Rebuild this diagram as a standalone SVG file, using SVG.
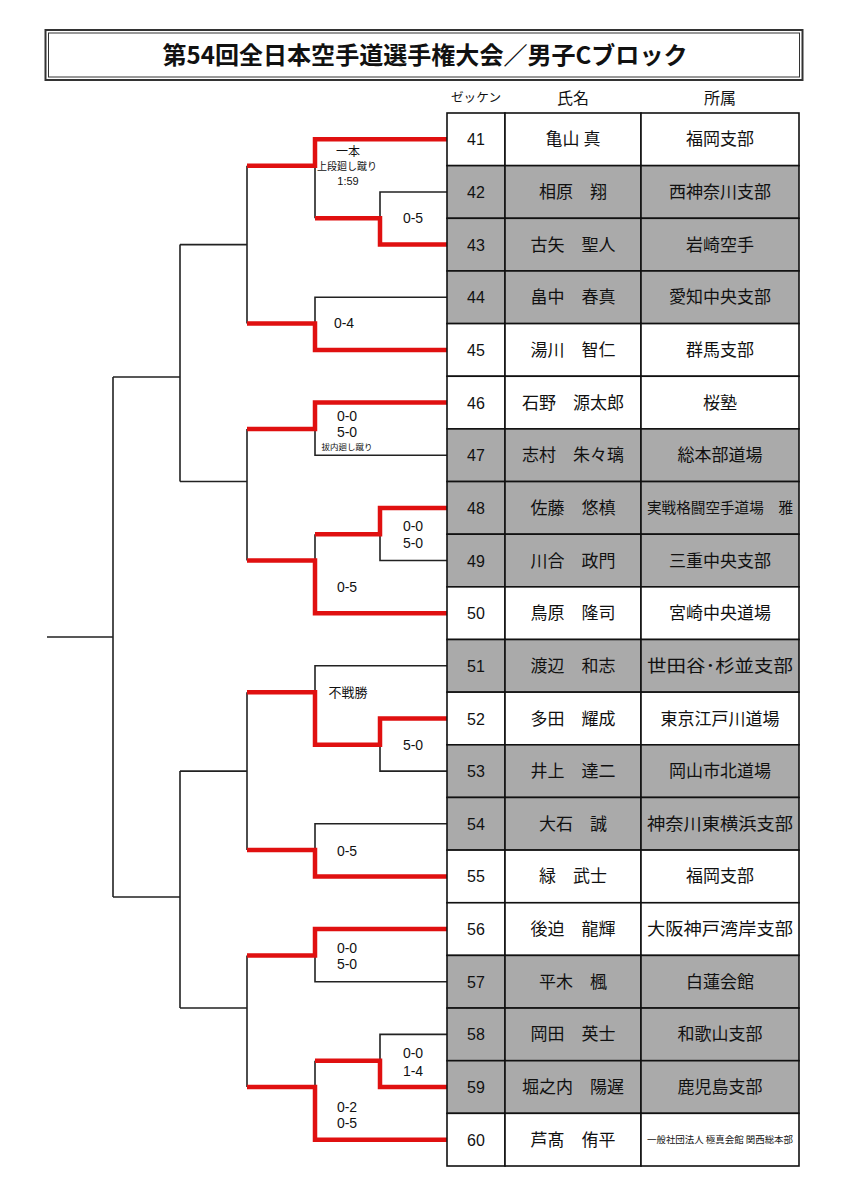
<svg xmlns="http://www.w3.org/2000/svg" width="848" height="1200" viewBox="0 0 848 1200">
<style>
.t{font-family:"Noto Sans CJK JP","Noto Sans",sans-serif;fill:#111}
.num{font-family:"Liberation Sans",Arial,sans-serif;font-size:16px;text-anchor:middle;fill:#111}
.nm{font-family:"Noto Sans CJK JP",sans-serif;font-size:17px;text-anchor:middle;fill:#111}
.sc{font-family:"Liberation Sans","Noto Sans CJK JP",sans-serif;font-size:14px;text-anchor:middle;fill:#111}
.bk{fill:none;stroke:#222;stroke-width:1.6}
.rd{fill:none;stroke:#e01010;stroke-width:4.5;stroke-linejoin:miter}
.cellw{fill:#fff;stroke:#111;stroke-width:1.6}
.cellg{fill:#aaaaaa;stroke:#111;stroke-width:1.6}
</style>
<rect width="848" height="1200" fill="#fff"/>
<g id="title">
<rect x="45.5" y="30" width="757" height="50" fill="#fff" stroke="#333" stroke-width="2"/>
<rect x="48.5" y="33" width="751" height="44" fill="none" stroke="#333" stroke-width="1"/>
<text x="425" y="64" class="t" style="font-size:24px;font-weight:bold" text-anchor="middle" textLength="525" lengthAdjust="spacingAndGlyphs">第54回全日本空手道選手権大会／男子Cブロック</text>
</g>
<g id="header">
<text x="476" y="102" class="t" style="font-size:12px" text-anchor="middle" textLength="50" lengthAdjust="spacingAndGlyphs">ゼッケン</text>
<text x="573" y="104" class="t" style="font-size:16px" text-anchor="middle">氏名</text>
<text x="720" y="104" class="t" style="font-size:16px" text-anchor="middle">所属</text>
</g>
<g id="connectors">
<path class="bk" d="M447,192 H380 V218.3 M315,165.65 V218.3 M447,297.3 H315 V323.6 M247,165.65 V323.6 M247,244.6 H180 M447,455.2 H315 V428.9 M447,560.5 H380 V534.2 M315,534.2 V560.5 M247,428.9 V560.5 M247,481.55 H180 M180,244.6 V481.55 M180,377 H113 M447,771.1 H380 V744.8 M447,665.8 H315 V692.15 M447,823.8 H315 V850.1 M247,692.15 V850.1 M247,771.1 H180 M447,981.7 H315 V955.4 M447,1034.4 H380 V1060.7 M315,1060.7 V1087 M247,955.4 V1087 M247,1008.05 H180 M180,771.1 V1008.05 M180,897 H113 M113,377 V897 M113,637 H47"/>
<path class="rd" d="M447,139.3 H315 V165.65 H247"/>
<path class="rd" d="M447,244.6 H380 V218.3 H315"/>
<path class="rd" d="M447,349.9 H315 V323.6 H247"/>
<path class="rd" d="M447,402.6 H315 V428.9 H247"/>
<path class="rd" d="M447,507.9 H380 V534.2 H315"/>
<path class="rd" d="M447,613.2 H315 V560.5 H247"/>
<path class="rd" d="M447,718.5 H380 V744.8 H315 V692.15 H247"/>
<path class="rd" d="M447,876.4 H315 V850.1 H247"/>
<path class="rd" d="M447,929.1 H315 V955.4 H247"/>
<path class="rd" d="M447,1087 H380 V1060.7 H315"/>
<path class="rd" d="M447,1139.7 H315 V1087 H247"/>
</g>
<g id="scores">
<text x="348" y="156" class="sc" style="font-size:12px">一本</text>
<text x="347" y="170" class="sc" style="font-size:10px">上段廻し蹴り</text>
<text x="348" y="185" class="sc" style="font-size:11px">1:59</text>
<text x="413" y="223" class="sc">0-5</text>
<text x="344" y="328" class="sc">0-4</text>
<text x="347" y="421" class="sc">0-0</text>
<text x="347" y="437" class="sc">5-0</text>
<text x="347" y="450" class="sc" style="font-size:8.5px">拔内廻し蹴り</text>
<text x="413" y="531" class="sc">0-0</text>
<text x="413" y="548" class="sc">5-0</text>
<text x="347" y="592" class="sc">0-5</text>
<text x="348" y="697" class="sc" style="font-size:13px">不戦勝</text>
<text x="413" y="750" class="sc">5-0</text>
<text x="347" y="856" class="sc">0-5</text>
<text x="347" y="953" class="sc">0-0</text>
<text x="347" y="969" class="sc">5-0</text>
<text x="413" y="1058" class="sc">0-0</text>
<text x="413" y="1076" class="sc">1-4</text>
<text x="347" y="1112" class="sc">0-2</text>
<text x="347" y="1128" class="sc">0-5</text>
</g>
<g id="p41"><rect class="cellw" x="447" y="113" width="58" height="52.65"/><rect class="cellw" x="505" y="113" width="136" height="52.65"/><rect class="cellw" x="641" y="113" width="158" height="52.65"/><text class="num" x="476" y="145">41</text><text class="nm" x="573" y="145">亀山 真</text><text class="nm" x="720" y="145">福岡支部</text></g>
<g id="p42"><rect class="cellg" x="447" y="165.65" width="58" height="52.65"/><rect class="cellg" x="505" y="165.65" width="136" height="52.65"/><rect class="cellg" x="641" y="165.65" width="158" height="52.65"/><text class="num" x="476" y="198">42</text><text class="nm" x="573" y="198">相原　翔</text><text class="nm" x="720" y="198">西神奈川支部</text></g>
<g id="p43"><rect class="cellg" x="447" y="218.3" width="58" height="52.65"/><rect class="cellg" x="505" y="218.3" width="136" height="52.65"/><rect class="cellg" x="641" y="218.3" width="158" height="52.65"/><text class="num" x="476" y="250.6">43</text><text class="nm" x="573" y="250.6">古矢　聖人</text><text class="nm" x="720" y="250.6">岩崎空手</text></g>
<g id="p44"><rect class="cellg" x="447" y="270.95" width="58" height="52.65"/><rect class="cellg" x="505" y="270.95" width="136" height="52.65"/><rect class="cellg" x="641" y="270.95" width="158" height="52.65"/><text class="num" x="476" y="303.3">44</text><text class="nm" x="573" y="303.3">畠中　春真</text><text class="nm" x="720" y="303.3">愛知中央支部</text></g>
<g id="p45"><rect class="cellw" x="447" y="323.6" width="58" height="52.65"/><rect class="cellw" x="505" y="323.6" width="136" height="52.65"/><rect class="cellw" x="641" y="323.6" width="158" height="52.65"/><text class="num" x="476" y="355.9">45</text><text class="nm" x="573" y="355.9">湯川　智仁</text><text class="nm" x="720" y="355.9">群馬支部</text></g>
<g id="p46"><rect class="cellw" x="447" y="376.25" width="58" height="52.65"/><rect class="cellw" x="505" y="376.25" width="136" height="52.65"/><rect class="cellw" x="641" y="376.25" width="158" height="52.65"/><text class="num" x="476" y="408.6">46</text><text class="nm" x="573" y="408.6">石野　源太郎</text><text class="nm" x="720" y="408.6">桜塾</text></g>
<g id="p47"><rect class="cellg" x="447" y="428.9" width="58" height="52.65"/><rect class="cellg" x="505" y="428.9" width="136" height="52.65"/><rect class="cellg" x="641" y="428.9" width="158" height="52.65"/><text class="num" x="476" y="461.2">47</text><text class="nm" x="573" y="461.2">志村　朱々璃</text><text class="nm" x="720" y="461.2">総本部道場</text></g>
<g id="p48"><rect class="cellg" x="447" y="481.55" width="58" height="52.65"/><rect class="cellg" x="505" y="481.55" width="136" height="52.65"/><rect class="cellg" x="641" y="481.55" width="158" height="52.65"/><text class="num" x="476" y="513.9">48</text><text class="nm" x="573" y="513.9">佐藤　悠槙</text><text class="nm" x="720" y="513" style="font-size:14.5px" textLength="146" lengthAdjust="spacingAndGlyphs">実戦格闘空手道場　雅</text></g>
<g id="p49"><rect class="cellg" x="447" y="534.2" width="58" height="52.65"/><rect class="cellg" x="505" y="534.2" width="136" height="52.65"/><rect class="cellg" x="641" y="534.2" width="158" height="52.65"/><text class="num" x="476" y="566.5">49</text><text class="nm" x="573" y="566.5">川合　政門</text><text class="nm" x="720" y="566.5">三重中央支部</text></g>
<g id="p50"><rect class="cellw" x="447" y="586.85" width="58" height="52.65"/><rect class="cellw" x="505" y="586.85" width="136" height="52.65"/><rect class="cellw" x="641" y="586.85" width="158" height="52.65"/><text class="num" x="476" y="619.2">50</text><text class="nm" x="573" y="619.2">鳥原　隆司</text><text class="nm" x="720" y="619.2">宮崎中央道場</text></g>
<g id="p51"><rect class="cellg" x="447" y="639.5" width="58" height="52.65"/><rect class="cellg" x="505" y="639.5" width="136" height="52.65"/><rect class="cellg" x="641" y="639.5" width="158" height="52.65"/><text class="num" x="476" y="671.8">51</text><text class="nm" x="573" y="671.8">渡辺　和志</text><text class="nm" x="720" y="671.8" textLength="146" lengthAdjust="spacingAndGlyphs">世田谷･杉並支部</text></g>
<g id="p52"><rect class="cellw" x="447" y="692.15" width="58" height="52.65"/><rect class="cellw" x="505" y="692.15" width="136" height="52.65"/><rect class="cellw" x="641" y="692.15" width="158" height="52.65"/><text class="num" x="476" y="724.5">52</text><text class="nm" x="573" y="724.5">多田　耀成</text><text class="nm" x="720" y="724.5">東京江戸川道場</text></g>
<g id="p53"><rect class="cellg" x="447" y="744.8" width="58" height="52.65"/><rect class="cellg" x="505" y="744.8" width="136" height="52.65"/><rect class="cellg" x="641" y="744.8" width="158" height="52.65"/><text class="num" x="476" y="777.1">53</text><text class="nm" x="573" y="777.1">井上　達二</text><text class="nm" x="720" y="777.1">岡山市北道場</text></g>
<g id="p54"><rect class="cellg" x="447" y="797.45" width="58" height="52.65"/><rect class="cellg" x="505" y="797.45" width="136" height="52.65"/><rect class="cellg" x="641" y="797.45" width="158" height="52.65"/><text class="num" x="476" y="829.8">54</text><text class="nm" x="573" y="829.8">大石　誠</text><text class="nm" x="720" y="829.8" textLength="146" lengthAdjust="spacingAndGlyphs">神奈川東横浜支部</text></g>
<g id="p55"><rect class="cellw" x="447" y="850.1" width="58" height="52.65"/><rect class="cellw" x="505" y="850.1" width="136" height="52.65"/><rect class="cellw" x="641" y="850.1" width="158" height="52.65"/><text class="num" x="476" y="882.4">55</text><text class="nm" x="573" y="882.4">緑　武士</text><text class="nm" x="720" y="882.4">福岡支部</text></g>
<g id="p56"><rect class="cellw" x="447" y="902.75" width="58" height="52.65"/><rect class="cellw" x="505" y="902.75" width="136" height="52.65"/><rect class="cellw" x="641" y="902.75" width="158" height="52.65"/><text class="num" x="476" y="935.1">56</text><text class="nm" x="573" y="935.1">後迫　龍輝</text><text class="nm" x="720" y="935.1" textLength="146" lengthAdjust="spacingAndGlyphs">大阪神戸湾岸支部</text></g>
<g id="p57"><rect class="cellg" x="447" y="955.4" width="58" height="52.65"/><rect class="cellg" x="505" y="955.4" width="136" height="52.65"/><rect class="cellg" x="641" y="955.4" width="158" height="52.65"/><text class="num" x="476" y="987.7">57</text><text class="nm" x="573" y="987.7">平木　楓</text><text class="nm" x="720" y="987.7">白蓮会館</text></g>
<g id="p58"><rect class="cellg" x="447" y="1008.05" width="58" height="52.65"/><rect class="cellg" x="505" y="1008.05" width="136" height="52.65"/><rect class="cellg" x="641" y="1008.05" width="158" height="52.65"/><text class="num" x="476" y="1040.4">58</text><text class="nm" x="573" y="1040.4">岡田　英士</text><text class="nm" x="720" y="1040.4">和歌山支部</text></g>
<g id="p59"><rect class="cellg" x="447" y="1060.7" width="58" height="52.65"/><rect class="cellg" x="505" y="1060.7" width="136" height="52.65"/><rect class="cellg" x="641" y="1060.7" width="158" height="52.65"/><text class="num" x="476" y="1093">59</text><text class="nm" x="573" y="1093">堀之内　陽遅</text><text class="nm" x="720" y="1093">鹿児島支部</text></g>
<g id="p60"><rect class="cellw" x="447" y="1113.35" width="58" height="52.65"/><rect class="cellw" x="505" y="1113.35" width="136" height="52.65"/><rect class="cellw" x="641" y="1113.35" width="158" height="52.65"/><text class="num" x="476" y="1145.7">60</text><text class="nm" x="573" y="1145.7">芦髙　侑平</text><text class="nm" x="720" y="1143" style="font-size:9.5px" textLength="146" lengthAdjust="spacingAndGlyphs">一般社団法人 極真会館 関西総本部</text></g>
</svg>
